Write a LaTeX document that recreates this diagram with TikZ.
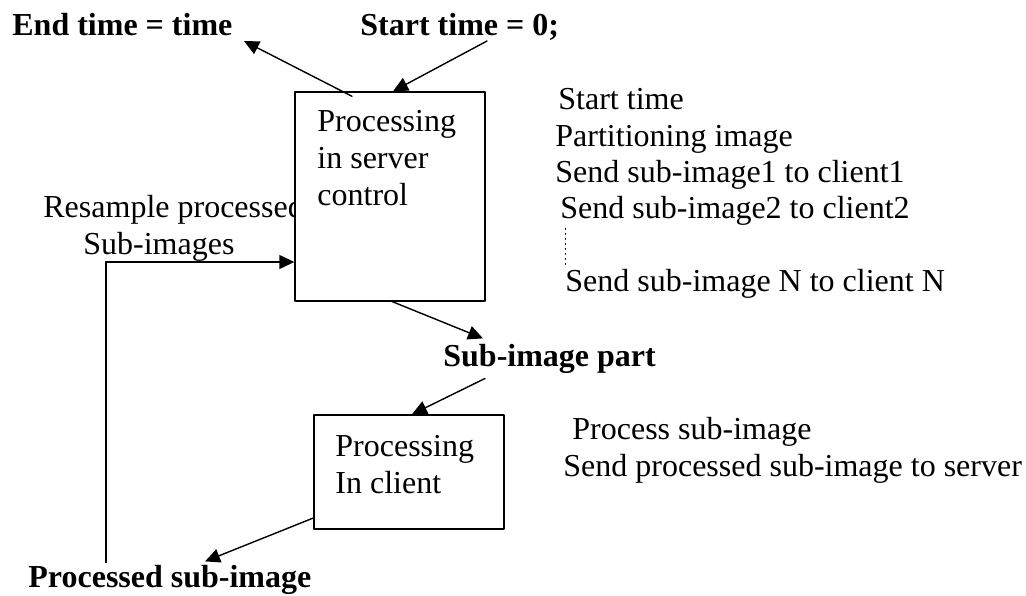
\documentclass[tikz,border=0pt]{standalone}
\usepackage{fontspec}
\setmainfont{Liberation Serif}
\usetikzlibrary{arrows.meta,calc,positioning}

\begin{document}
\begin{tikzpicture}[x=.5pt,y=-.5pt,line cap=round,line join=round,
  txt/.style={font=\fontsize{16}{18.5}\selectfont,inner sep=0pt,anchor=base west},
  bold/.style={txt,font=\fontsize{16}{18.5}\selectfont\bfseries},
  box/.style={draw,line width=.7pt,fill=white,inner sep=0pt},
  link/.style={line width=.7pt,-{Triangle[length=7.5pt,width=7pt]}}]
  \useasboundingbox (0,0) rectangle (1026,595);
  % Timer labels.
  \node[bold] (endtime) at (12,35) {End time = time};
  \node[bold] (starttime) at (360,35) {Start time = 0;};
  % Note on the left, the box covers its end.
  \node[txt] (resample) at (43,217) {Resample processed};
  \node[txt] (subimages) at (83,254) {Sub-images};
  % Server.
  \node[box,minimum width=95pt,minimum height=104.5pt] (server) at (390,196.5) {};
  \foreach \y/\lab [count=\i] in {131/Processing,168/in server,205/control}
    \node[txt] (srv\i) at (317,\y) {\lab};
  \foreach \x/\y/\lab [count=\i] in {558/109/Start time,555/146/Partitioning image,
      555/182/Send sub-image1 to client1,560/218/Send sub-image2 to client2,
      565/291/Send sub-image N to client N}
    \node[txt] (step\i) at (\x,\y) {\lab};
  \draw[dotted,line width=.5pt] ($(step4.south west)+(5,3)$) -- ($(step4.south west)+(5,39)$);
  % Client.
  \node[bold] (part) at (443,366) {Sub-image part};
  \node[box,minimum width=95pt,minimum height=57pt] (client) at (409,472) {};
  \foreach \y/\lab [count=\i] in {456/Processing,493/In client}
    \node[txt] (cli\i) at (335,\y) {\lab};
  \node[txt] (cstep1) at (572,439) {Process sub-image};
  \node[txt] (cstep2) at (563,476) {Send processed sub-image to server};
  \node[bold] (processed) at (28,587) {Processed sub-image};
  % Arrows.
  \coordinate (endtip) at (244,41);
  \coordinate (starttail) at (487,41);
  \draw[link] ($(server.north)+(-38,5)$) -- (endtip);
  \draw[link] (starttail) -- ($(server.north)+(3,0)$);
  \draw[link] ($(server.south)+(0,-1)$) -- ($(part.north west)+(40,-5)$);
  \draw[link] ($(part.south west)+(42,5)$) -- ($(client.north)+(3,0)$);
  \draw[link] ($(client.west)+(0,46)$) -- ($(processed.north west)+(177,-3)$);
  \draw[link] ($(processed.north west)+(78,-2)$) |- ($(server.west)+(0,65.5)$);
\end{tikzpicture}
\end{document}
